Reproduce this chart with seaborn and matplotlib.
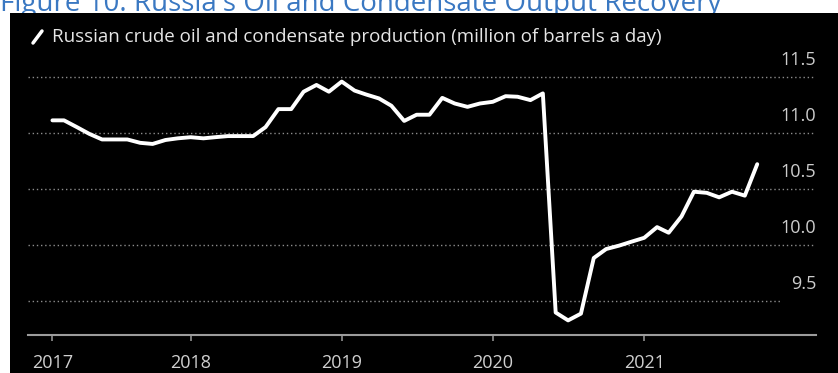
import matplotlib
matplotlib.use("Agg")
import numpy as np
import pandas as pd
import matplotlib.pyplot as plt
import matplotlib.transforms as mtransforms
from matplotlib.lines import Line2D
from matplotlib.patches import Rectangle
import seaborn as sns

# Monthly Russian crude oil and condensate output, million barrels a day
months = pd.date_range("2017-02-01", periods=57, freq="MS")
production = [11.11, 11.11, 11.05, 10.99, 10.94, 10.94, 10.94, 10.91, 10.90, 10.935,
              10.95, 10.96, 10.95, 10.96, 10.97, 10.97, 10.97, 11.05, 11.21, 11.21,
              11.365, 11.425, 11.365, 11.455, 11.375, 11.34, 11.305, 11.24, 11.105, 11.16,
              11.16, 11.31, 11.26, 11.23, 11.26, 11.275, 11.325, 11.32, 11.29, 11.35,
              9.40, 9.33, 9.39, 9.885, 9.965, 9.995, 10.03, 10.065, 10.16, 10.11,
              10.255, 10.475, 10.465, 10.425, 10.475, 10.44, 10.72]

year_tick_dates = ["2017-02-01", "2018-01-01", "2019-01-01", "2020-01-01", "2021-01-01"]
year_tick_labels = ["2017", "2018", "2019", "2020", "2021"]
value_ticks = [9.5, 10.0, 10.5, 11.0, 11.5]

title = "Figure 10: Russia's Oil and Condensate Output Recovery"
series_label = "Russian crude oil and condensate production (million of barrels a day)"

df = pd.DataFrame({"month": months, "production": production})

sns.set_theme(style="dark")
plt.rcParams["font.family"] = ["Open Sans", "DejaVu Sans"]

W, H = 838, 373
fig = plt.figure(figsize=(W / 100, H / 100), dpi=100, facecolor="white")

# black chart panel below the page title (drawn underneath the axes)
fig.patches.append(Rectangle((10 / W, 0), (W - 10) / W, (H - 13) / H,
                             transform=fig.transFigure, facecolor="black",
                             edgecolor="none", zorder=-1))

ax = fig.add_axes([28 / W, 38 / H, 788 / W, 275 / H])
ax.set_facecolor("none")

sns.lineplot(data=df, x="month", y="production", ax=ax, color="white",
             linewidth=2.8, legend=False, solid_joinstyle="round", zorder=3)

ax.set_ylim(9.2, 11.647)
ax.set_xlim(pd.Timestamp("2016-12-04"), pd.Timestamp("2022-02-20"))
ax.set_xlabel("")
ax.set_ylabel("")
ax.grid(False)

for name, sp in ax.spines.items():
    sp.set_visible(name == "bottom")
ax.spines["bottom"].set_color("#9c9c9c")
ax.spines["bottom"].set_linewidth(1.5)

# dotted horizontal gridlines
for v in value_ticks:
    ax.axhline(v, xmin=0, xmax=(0.954 if v == 9.5 else 1.0), color="#8c8c8c",
               lw=1.0, ls=(0, (1, 2)), zorder=1)

# value labels sit right-aligned above their gridlines
ax.set_yticks([])
lift = mtransforms.ScaledTranslation(0, 17 / 100, fig.dpi_scale_trans)
blend = mtransforms.blended_transform_factory(ax.transAxes, ax.transData)
for v in value_ticks:
    ax.text(1.0, v, f"{v:.1f}", transform=blend + lift, ha="right", va="center",
            color="#cccccc", fontsize=13)

ax.set_xticks(pd.to_datetime(year_tick_dates))
ax.set_xticklabels(year_tick_labels)
ax.tick_params(axis="x", bottom=True, direction="out", length=4.5, width=1.1,
               color="#9c9c9c", labelcolor="#d0d0d0", labelsize=13, pad=9)

# series key
fig.add_artist(Line2D([33 / W, 42 / W], [1 - 43 / H, 1 - 31 / H], color="white",
                      lw=2.5, transform=fig.transFigure))
fig.text(52 / W, 1 - 37 / H, series_label, color="#e6e6e6", fontsize=13.5,
         va="center", ha="left")

# page title, partly above the visible area and tucked behind the panel
fig.text(0 / W, 1 - 11 / H, title, color="#3a78c2", fontsize=20,
         va="baseline", ha="left", zorder=-2)

fig.savefig("out.png", dpi=100, facecolor="white")
